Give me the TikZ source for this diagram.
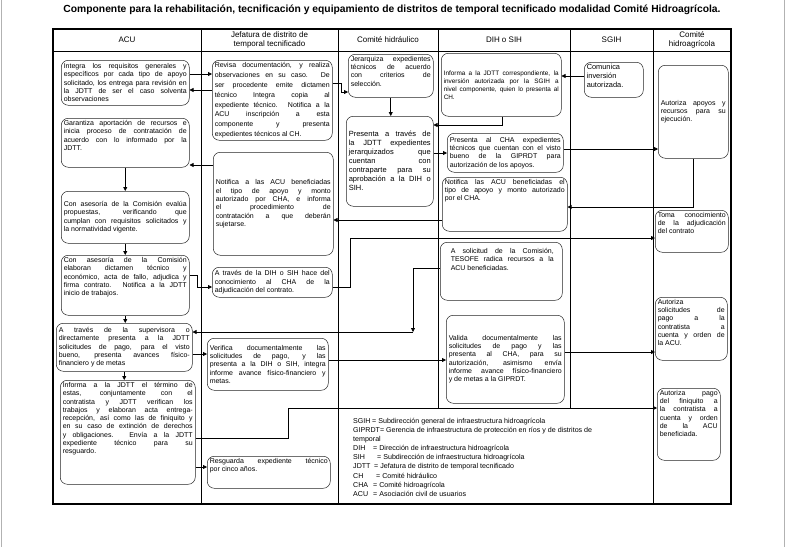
\documentclass[tikz,border=0pt]{standalone}
\usepackage{fontspec}
\setmainfont{Liberation Sans}
\usetikzlibrary{arrows.meta}
\newcommand\setbf[2]{\fontsize{#1}{#2}\selectfont\hyphenpenalty=10000 \exhyphenpenalty=10000 \tolerance=10000 \parindent=0pt\relax}
\newcommand\boxfont{\setbf{7.0}{8.3}}
\newcommand\mkbox[7]{%
  \pgfmathsetmacro\bxw{#4-#2}%
  \pgfmathsetmacro\bxh{#5-#3}%
  \pgfmathsetmacro\bxt{#4-#2-5}%
  \node[bx,anchor=north west,minimum width=\bxw pt,minimum height=\bxh pt,text width=\bxt pt,#6] (#1) at (#2,#3) {#7};}
\newcommand\mkboxt[7]{%
  \pgfmathsetmacro\bxw{#4-#2}%
  \pgfmathsetmacro\bxh{#5-#3-4}%
  \pgfmathsetmacro\bxt{#4-#2-5}%
  \node[bxbase,anchor=north west,minimum width=\bxw pt,#6] (#1) at (#2,#3) {\begin{minipage}[c][\bxh pt][t]{\bxt pt}#7\end{minipage}};}
\tikzset{
  bxbase/.style={draw=black!85, line width=0.5pt, rounded corners=7pt, inner xsep=2.5pt, inner ysep=2pt, font=\boxfont},
  bx/.style={bxbase, align=justify},
  arr/.style={line width=0.8pt, -{Triangle[length=4pt,width=4pt]}},
  tline/.style={line width=0.6pt},
  tout/.style={line width=1.4pt},
  hdr/.style={font=\fontsize{8}{9.5}\selectfont, align=center, inner sep=0pt},
}
\begin{document}
\begin{tikzpicture}[x=1pt,y=-1pt]
\useasboundingbox (0,0) rectangle (789,547);
\fill[white] (0,0) rectangle (789,547);
\draw[black!30, line width=0.8pt] (1,0) -- (1,547) (784,0) -- (784,547);
\node[font=\bfseries\fontsize{10.3}{12}\selectfont, inner sep=0pt] (title) at (392,9.5) {Componente para la rehabilitación, tecnificación y equipamiento de distritos de temporal tecnificado modalidad Comité Hidroagrícola.};
% table
\draw[tout] (53,29) rectangle (731,504);
\draw[tline] (53,51) -- (731,51);
\draw[tline] (201,29) -- (201,504) (338,29) -- (338,504) (653,29) -- (653,504);
\draw[tline] (438,29) -- (438,409) (570,29) -- (570,409);
\node[hdr] (h-acu) at (127,40) {ACU};
\node[hdr] (h-jdtt) at (269.5,40) {Jefatura de distrito de\\temporal tecnificado};
\node[hdr] (h-ch) at (388,40) {Comité hidráulico};
\node[hdr] (h-dih) at (504,40) {DIH o SIH};
\node[hdr] (h-sgih) at (611.5,40) {SGIH};
\node[hdr] (h-cha) at (692,40) {Comité\\hidroagrícola};
% ACU column
\mkbox{a1}{61}{60}{189}{105}{}{Integra los requisitos generales y\linebreak específicos por cada tipo de apoyo\linebreak solicitado, los entrega para revisión en\linebreak la JDTT de ser el caso solventa\linebreak observaciones}
\mkboxt{a2}{61}{118}{189}{167}{}{Garantiza aportación de recursos e\linebreak inicia proceso de contratación de\linebreak acuerdo con lo informado por la\linebreak JDTT.}
\mkbox{a3}{61}{191}{189}{243}{}{Con asesoría de la Comisión evalúa\linebreak propuestas, verificando que\linebreak cumplan con requisitos solicitados y\linebreak la normatividad vigente.}
\mkboxt{a4}{61}{255}{189}{315}{}{Con asesoría de la Comisión\linebreak elaboran dictamen técnico y\linebreak económico, acta de fallo, adjudica y\linebreak firma contrato. Notifica a la JDTT\linebreak inicio de trabajos.}
\mkbox{a5}{56}{323}{192}{371}{}{A través de la supervisora o\linebreak directamente presenta a la JDTT\linebreak solicitudes de pago, para el visto\linebreak bueno, presenta avances físico-\linebreak financiero y de metas}
\mkboxt{a6}{60}{380}{195}{484}{}{Informa a la JDTT el término de\linebreak estas, conjuntamente con el\linebreak contratista y JDTT verifican los\linebreak trabajos y elaboran acta entrega-\linebreak recepción, así como las de finiquito y\linebreak en su caso de extinción de derechos\linebreak y obligaciones. Envía a la JDTT\linebreak expediente técnico para su\linebreak resguardo.}
% JDTT column
\mkbox{j1}{212}{60}{332}{140}{font={\setbf{7.0}{9.8}}}{Revisa documentación, y realiza\linebreak observaciones en su caso. De\linebreak ser procedente emite dictamen\linebreak técnico Integra copia al\linebreak expediente técnico. Notifica a la\linebreak ACU inscripción a esta\linebreak componente y presenta\linebreak expedientes técnicos al CH.}
\mkbox{j2}{213}{152}{333}{255}{}{Notifica a las ACU beneficiadas\linebreak el tipo de apoyo y monto\linebreak autorizado por CHA, e informa\linebreak el procedimiento de\linebreak contratación a que deberán\linebreak sujetarse.}
\mkbox{j3}{212}{267}{332}{297}{}{A través de la DIH o SIH hace del\linebreak conocimiento al CHA de la\linebreak adjudicación del contrato.}
\mkbox{j4}{207}{338}{328}{390}{}{Verifica documentalmente las\linebreak solicitudes de pago, y las\linebreak presenta a la DIH o SIH, integra\linebreak informe avance físico-financiero y\linebreak metas.}
\mkboxt{j5}{207}{456}{330}{488}{}{Resguarda expediente técnico\linebreak por cinco años.}
% CH column
\mkboxt{c1}{348}{54}{433}{97}{}{Jerarquiza expedientes\linebreak técnicos de acuerdo\linebreak con criterios de\linebreak selección.}
\mkbox{c2}{346}{116}{433}{206}{font={\setbf{7.5}{9}}}{Presenta a través de\linebreak la JDTT expedientes\linebreak jerarquizados que\linebreak cuentan con\linebreak contraparte para su\linebreak aprobación a la DIH o\linebreak SIH.}
% DIH column
\mkbox{d1}{441}{53}{561}{116}{font={\setbf{6.4}{8}}}{Informa a la JDTT correspondiente, la\linebreak inversión autorizada por la SGIH a\linebreak nivel componente, quien lo presenta al\linebreak CH.}
\mkbox{d2}{447}{133}{563}{172}{}{Presenta al CHA expedientes\linebreak técnicos que cuentan con el visto\linebreak bueno de la GIPRDT para\linebreak autorización de los apoyos.}
\mkboxt{d3}{442}{177}{567}{231}{}{Notifica las ACU beneficiadas el\linebreak tipo de apoyo y monto autorizado\linebreak por el CHA.}
\mkboxt{d4}{440}{242}{562}{300}{}{\leftskip=8pt\rightskip=6pt\vspace*{4pt}A solicitud de la Comisión,\linebreak TESOFE radica recursos a la\linebreak ACU beneficiadas.}
\mkbox{d5}{446}{315}{564}{403}{}{Valida documentalmente las\linebreak solicitudes de pago y las\linebreak presenta al CHA, para su\linebreak autorización, asimismo envía\linebreak informe avance físico-financiero\linebreak y de metas a la GIPRDT.}
% SGIH column
\mkboxt{s1}{584}{62}{643}{97}{font={\setbf{7.4}{9}}}{\raggedright Comunica\\ inversión\\ autorizada.}
% CHA column
\mkbox{h1}{658}{65}{728}{158}{}{Autoriza apoyos y\linebreak recursos para su\linebreak ejecución.}
\mkboxt{h2}{655}{210}{728}{252}{}{Toma conocimiento\linebreak de la adjudicación\linebreak del contrato}
\mkboxt{h3}{655}{297}{727}{360}{}{Autoriza\linebreak solicitudes de\linebreak pago a la\linebreak contratista a\linebreak cuenta y orden de\linebreak la ACU.}
\mkboxt{h4}{657}{388}{720}{460}{}{Autoriza pago\linebreak del finiquito a\linebreak la contratista a\linebreak cuenta y orden\linebreak de la ACU\linebreak beneficiada.}
% legend
\node[anchor=north west, font=\fontsize{7.1}{9.1}\selectfont, align=left, inner sep=0pt] (leg) at (353,418) {%
\makebox[19pt][l]{SGIH}= Subdirección general de infraestructura hidroagrícola\\
GIPRDT= Gerencia de infraestructura de protección en ríos y de distritos de\\
temporal\\
\makebox[20pt][l]{DIH}= Dirección de infraestructura hidroagrícola\\
\makebox[24pt][l]{SIH}= Subdirección de infraestructura hidroagrícola\\
\makebox[21pt][l]{JDTT}= Jefatura de distrito de temporal tecnificado\\
\makebox[23pt][l]{CH}= Comité hidráulico\\
\makebox[20pt][l]{CHA}= Comité hidroagrícola\\
\makebox[20pt][l]{ACU}= Asociación civil de usuarios};
% connectors
\draw[arr] (a1.east |- 0,74) -- (j1.west |- 0,74);
\draw[arr] (j1.west |- 0,90) -- (a1.east |- 0,90);
\draw[arr] (j1.east |- 0,83) -- (341,83) |- (c1.west |- 0,92);
\draw[arr] (c1.south) -- (c1.south |- c2.north);
\draw[arr] (d1.south -| 502,0) |- (c2.east |- 0,125);
\draw[arr] (c2.east |- 0,153) -- (d2.west |- 0,153);
\draw[arr] (d2.east |- 0,149) -- (h1.west |- 0,149);
\draw[arr] (s1.west |- 0,76) -- (d1.east |- 0,76);
\draw[arr] (h1.south -| 693,0) |- (d3.east |- 0,207);
\draw[arr] (d3.west |- 0,220) -- (j2.east |- 0,220);
\draw[arr] (j2.west |- 0,165) -- (a2.east |- 0,165);
\draw[arr] (a2.south) -- (a2.south |- a3.north);
\draw[arr] (a3.south) -- (a3.south |- a4.north);
\draw[arr] (a4.south) -- (a4.south |- a5.north);
\draw[arr] (a5.south) -- (a5.south |- a6.north);
\draw[arr] (a4.east |- 0,275) -- (197,275) |- (j3.west |- 0,287);
\draw[arr] (j3.east |- 0,287) -- (350,287) |- (h2.west |- 0,238);
\coordinate (k1) at (413,332);
\draw[arr] (d4.west |- 0,268) -| (k1);
\draw[arr] (k1) -- (a5.east |- k1);
\draw[arr] (a5.east |- 0,354) -- (j4.west |- 0,354);
\draw[arr] (j4.east |- 0,360) -- (d5.west |- 0,360);
\draw[arr] (d5.east |- 0,352) -- (h3.west |- 0,352);
\draw[arr] (a6.east |- 0,438) -- (288,438) |- (h4.west |- 0,408);
\draw[arr] (a6.east |- 0,467) -- (j5.west |- 0,467);
\end{tikzpicture}
\end{document}
